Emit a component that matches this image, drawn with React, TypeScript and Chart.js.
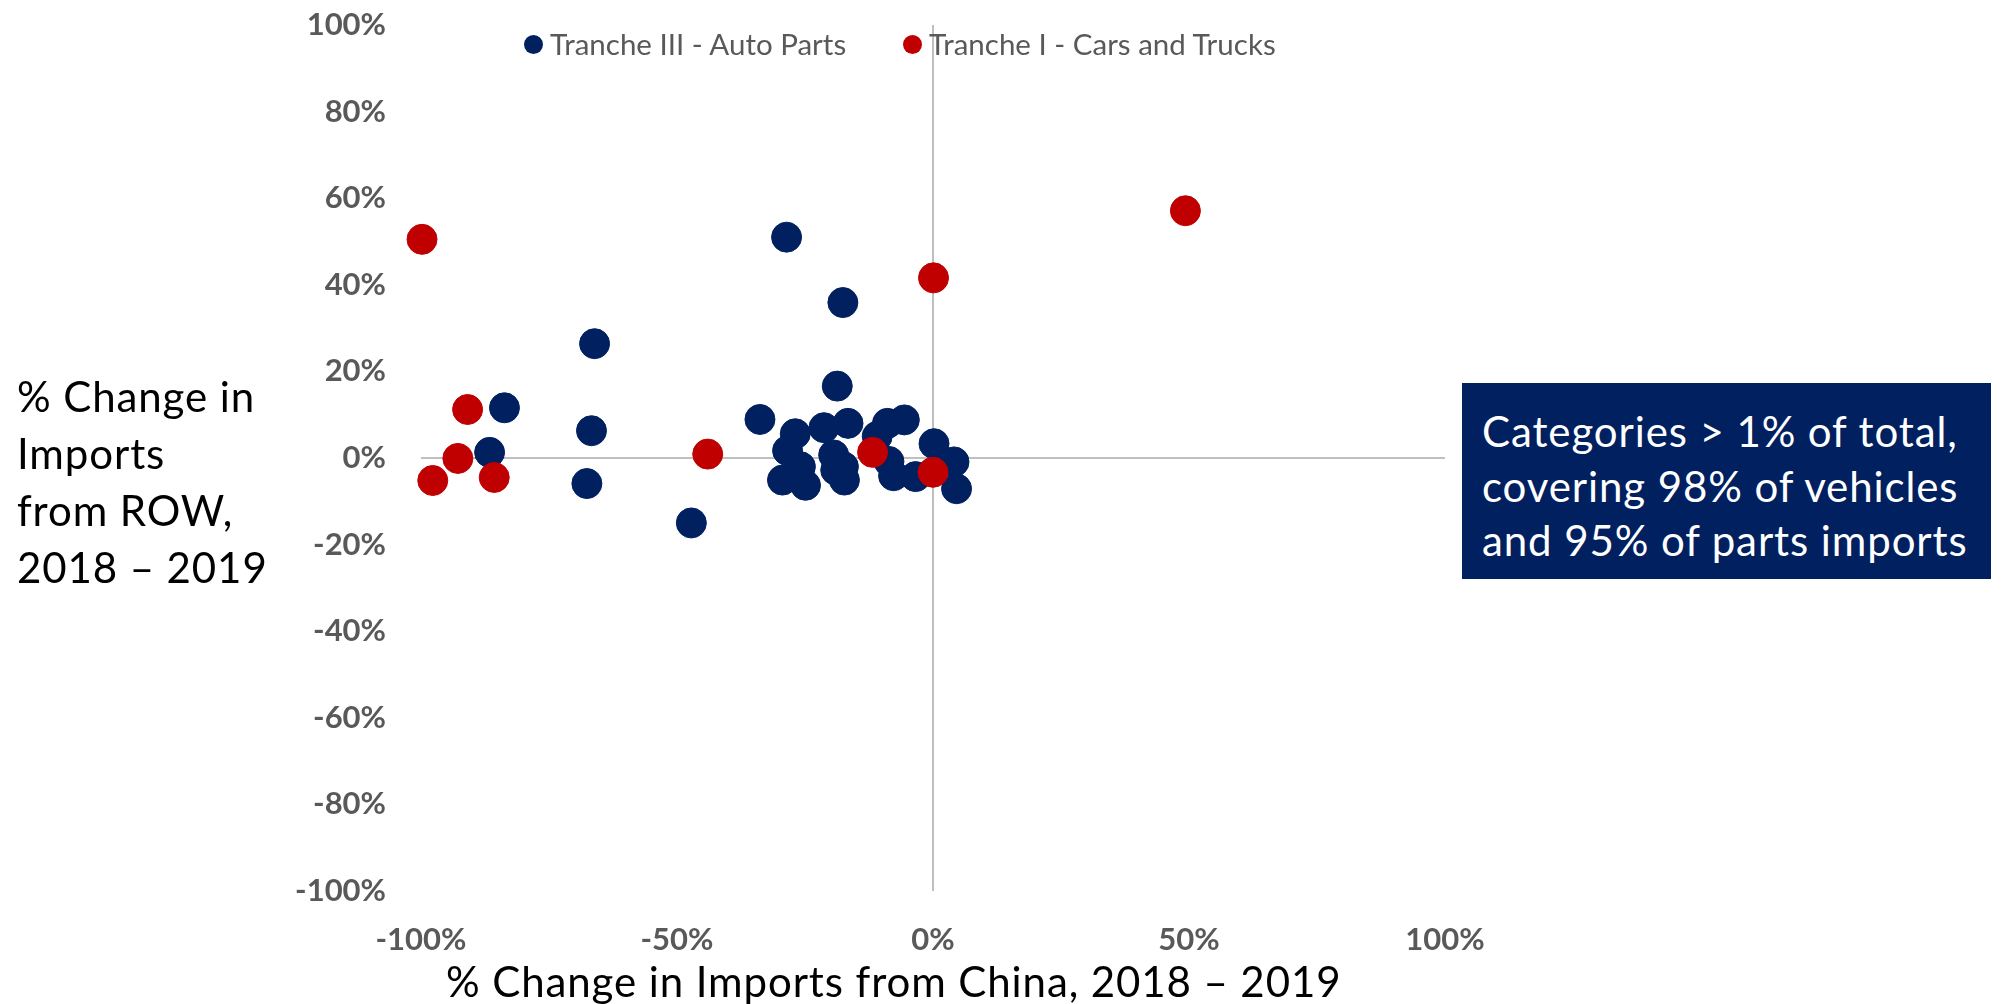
import React, { useEffect, useRef } from "react";
import { Chart, registerables } from "chart.js";

Chart.register(...registerables);

// ---- Data (percent change) ----
const partsLabel = "Tranche III - Auto Parts";
const carsLabel = "Tranche I - Cars and Trucks";

const partsChinaChange = [
  -28.6, -17.6, -66.1, -18.7, -83.7, -33.8, -66.7, -86.6, -67.6, -47.2,
  -26.9, -21.3, -16.6, -8.9, -5.6, -10.9, -28.4, -19.4, -25.9, -19.0,
  -29.4, -24.9, -17.3, -8.6, -7.7, -3.4, 0.2, 4.1, 4.6, -17.5,
];
const partsRowChange = [
  51.0, 35.9, 26.4, 16.6, 11.6, 8.9, 6.3, 1.3, -5.9, -15.0,
  5.6, 7.0, 8.0, 8.0, 8.8, 5.0, 1.7, 0.7, -2.0, -2.8,
  -5.1, -6.3, -5.1, -0.8, -4.1, -4.3, 3.3, -0.9, -7.1, -2.0,
];

const carsChinaChange = [-99.8, -90.9, -92.8, -97.7, -85.7, -44.0, -11.8, 0.0, 0.1, 49.3];
const carsRowChange = [50.5, 11.2, -0.1, -5.2, -4.5, 0.9, 1.3, -3.3, 41.6, 57.1];

const xTicks = [-100, -50, 0, 50, 100];
const yTicks = [-100, -80, -60, -40, -20, 0, 20, 40, 60, 80, 100];

const xTitle = "% Change in Imports from China, 2018 – 2019";
const yTitleLines = ["% Change in", "Imports", "from ROW,", "2018 – 2019"];
const noteLines = [
  "Categories > 1% of total,",
  "covering 98% of vehicles",
  "and 95% of parts imports",
];

const NAVY = "#002060";
const RED = "#C00000";
const GREY_TEXT = "#595959";

export default function App() {
  const canvasRef = useRef<HTMLCanvasElement | null>(null);

  useEffect(() => {
    if (!canvasRef.current) return;
    const partsPoints = partsChinaChange.map((x, i) => ({ x, y: partsRowChange[i] }));
    const carsPoints = carsChinaChange.map((x, i) => ({ x, y: carsRowChange[i] }));
    const tickFont = { family: "Lato", size: 31, weight: "bold" as const };
    const zeroGrid = (ctx: any) =>
      ctx.tick && ctx.tick.value === 0 ? "#BFBFBF" : "rgba(0,0,0,0)";

    const chart = new Chart(canvasRef.current, {
      type: "scatter",
      data: {
        datasets: [
          {
            label: partsLabel,
            data: partsPoints,
            backgroundColor: NAVY,
            borderColor: NAVY,
            borderWidth: 1,
            pointRadius: 15,
            pointHoverRadius: 15,
            order: 1,
            clip: false,
          },
          {
            label: carsLabel,
            data: carsPoints,
            backgroundColor: RED,
            borderColor: RED,
            borderWidth: 1,
            pointRadius: 15,
            pointHoverRadius: 15,
            order: 0,
            clip: false,
          },
        ],
      },
      options: {
        responsive: false,
        animation: false,
        devicePixelRatio: 1,
        layout: { padding: { left: 291, right: 569, top: 25, bottom: 13 } },
        plugins: {
          legend: { display: false },
          tooltip: { enabled: false },
          title: { display: false },
        },
        scales: {
          x: {
            type: "linear",
            min: -100,
            max: 100,
            afterFit: (s: any) => {
              s.height = 100;
            },
            afterBuildTicks: (s: any) => {
              s.ticks = xTicks.map((v) => ({ value: v }));
            },
            ticks: {
              callback: (v: any) => `${v}%`,
              font: tickFont,
              color: GREY_TEXT,
              padding: 30,
              maxRotation: 0,
            },
            grid: { color: zeroGrid, lineWidth: 2, drawTicks: false },
            border: { display: false },
          },
          y: {
            type: "linear",
            min: -100,
            max: 100,
            afterFit: (s: any) => {
              s.width = 130;
              s.paddingTop = 0;
              s.paddingBottom = 0;
            },
            afterBuildTicks: (s: any) => {
              s.ticks = yTicks.map((v) => ({ value: v }));
            },
            ticks: {
              callback: (v: any) => `${v}%`,
              font: tickFont,
              color: GREY_TEXT,
              padding: 35,
            },
            grid: { color: zeroGrid, lineWidth: 2, drawTicks: false },
            border: { display: false },
          },
        },
      },
    });
    return () => chart.destroy();
  }, []);

  const legendText: React.CSSProperties = {
    position: "absolute",
    fontFamily: "Lato",
    fontSize: 29.5,
    color: GREY_TEXT,
    lineHeight: "34px",
    top: 27,
    whiteSpace: "nowrap",
  };
  const dot = (color: string, cx: number): React.CSSProperties => ({
    position: "absolute",
    left: cx - 9.5,
    top: 44 - 9.5,
    width: 19,
    height: 19,
    borderRadius: "50%",
    background: color,
  });
  const bigText: React.CSSProperties = {
    fontFamily: "Lato",
    fontSize: 42,
    letterSpacing: "0.9px",
    whiteSpace: "nowrap",
  };

  return (
    <div
      style={{
        position: "fixed",
        left: 0,
        top: 0,
        width: 2014,
        height: 1004,
        background: "#ffffff",
        overflow: "hidden",
      }}
    >
      <canvas
        ref={canvasRef}
        width={2014}
        height={1004}
        style={{ position: "absolute", left: 0, top: 0, width: 2014, height: 1004 }}
      />
      {/* legend */}
      <div style={dot(NAVY, 533)} />
      <div style={{ ...legendText, left: 550 }}>{partsLabel}</div>
      <div style={dot(RED, 912)} />
      <div style={{ ...legendText, left: 929 }}>{carsLabel}</div>

      {/* y axis title */}
      <div
        style={{
          ...bigText,
          position: "absolute",
          left: 17,
          top: 368,
          lineHeight: "57px",
          color: "#000000",
        }}
      >
        {yTitleLines.map((l, i) => (
          <div key={i}>{l}</div>
        ))}
      </div>

      {/* x axis title */}
      <div
        style={{
          ...bigText,
          position: "absolute",
          left: 446,
          top: 953,
          lineHeight: "56px",
          color: "#000000",
        }}
      >
        {xTitle}
      </div>

      {/* annotation box */}
      <div
        style={{
          ...bigText,
          position: "absolute",
          left: 1462,
          top: 383,
          width: 529,
          height: 196,
          background: NAVY,
          boxSizing: "border-box",
          paddingLeft: 20,
          paddingTop: 21,
          lineHeight: "54.5px",
          color: "#ffffff",
        }}
      >
        {noteLines.map((l, i) => (
          <div key={i}>{l}</div>
        ))}
      </div>
    </div>
  );
}
